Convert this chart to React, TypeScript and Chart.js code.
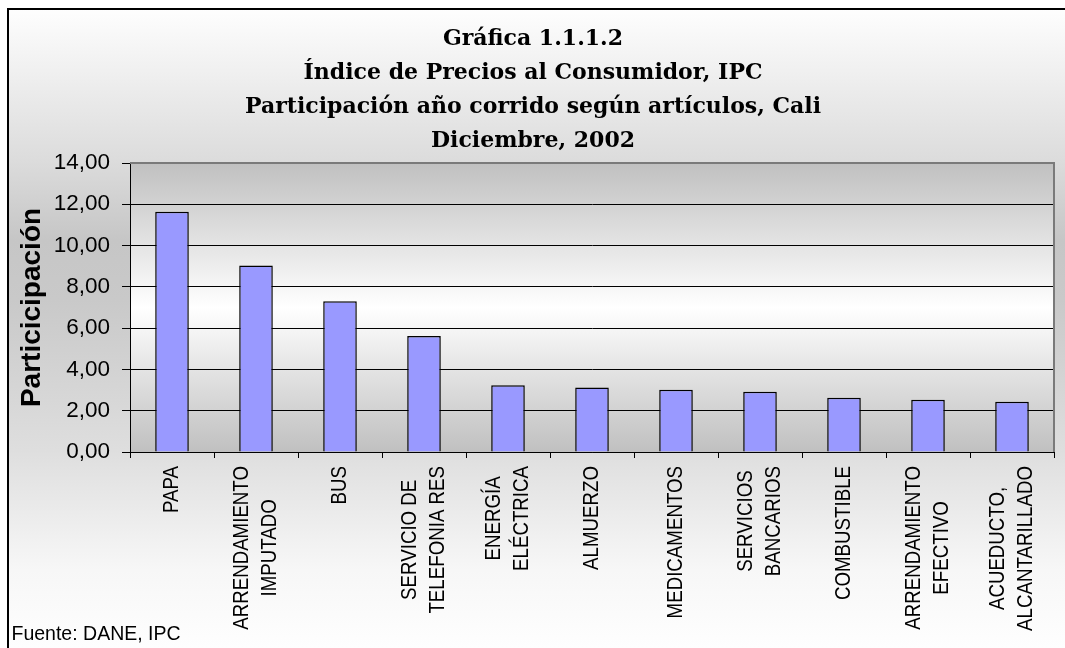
import React, { useEffect, useRef } from "react";
import { Chart, registerables } from "chart.js";

Chart.register(...registerables);

const titleLines = [
  "Gráfica 1.1.1.2",
  "Índice de Precios al Consumidor, IPC",
  "Participación año corrido según artículos, Cali",
  "Diciembre, 2002",
];

const categories: string[][] = [
  ["PAPA"],
  ["ARRENDAMIENTO", "IMPUTADO"],
  ["BUS"],
  ["SERVICIO DE", "TELEFONIA RES"],
  ["ENERGÍA", "ELÉCTRICA"],
  ["ALMUERZO"],
  ["MEDICAMENTOS"],
  ["SERVICIOS", "BANCARIOS"],
  ["COMBUSTIBLE"],
  ["ARRENDAMIENTO", "EFECTIVO"],
  ["ACUEDUCTO,", "ALCANTARILLADO"],
];

const participacion = [11.64, 9.04, 7.3, 5.62, 3.23, 3.13, 3.02, 2.92, 2.63, 2.53, 2.44];

const yMin = 0;
const yMax = 14;
const yStep = 2;

const yAxisTitle = "Particicipación";
const sourceNote = "Fuente: DANE, IPC";

const SANS = "'Liberation Sans', Arial, sans-serif";
const SERIF = "'DejaVu Serif', serif";

const decorPlugin = {
  id: "decor",
  beforeDraw(chart: any) {
    const { ctx, chartArea, width, height } = chart;
    ctx.save();
    ctx.fillStyle = "#ffffff";
    ctx.fillRect(0, 0, width, height);
    const g = ctx.createLinearGradient(0, 8, 0, height);
    g.addColorStop(0, "#fefefe");
    g.addColorStop((160 - 8) / (height - 8), "#dcdcdc");
    g.addColorStop((240 - 8) / (height - 8), "#c6c6c6");
    g.addColorStop((300 - 8) / (height - 8), "#c9c9c9");
    g.addColorStop((450 - 8) / (height - 8), "#dedede");
    g.addColorStop((570 - 8) / (height - 8), "#f7f7f7");
    g.addColorStop(1, "#fefefe");
    ctx.fillStyle = g;
    ctx.fillRect(9, 10, width - 9, height - 10);

    const pg = ctx.createLinearGradient(0, chartArea.top, 0, chartArea.bottom);
    pg.addColorStop(0, "#c0c0c0");
    pg.addColorStop(0.5, "#ffffff");
    pg.addColorStop(1, "#c0c0c0");
    ctx.fillStyle = pg;
    ctx.fillRect(chartArea.left, chartArea.top, chartArea.right - chartArea.left, chartArea.bottom - chartArea.top);
    ctx.restore();
  },
  afterDraw(chart: any) {
    const { ctx, chartArea, width, height } = chart;
    const xScale = chart.scales.x;
    ctx.save();
    // plot area border (top/right, gray)
    ctx.strokeStyle = "#7a7a7a";
    ctx.lineWidth = 2;
    ctx.beginPath();
    ctx.moveTo(chartArea.left, chartArea.top);
    ctx.lineTo(chartArea.right, chartArea.top);
    ctx.lineTo(chartArea.right, chartArea.bottom);
    ctx.stroke();

    // outer frame (left/top)
    ctx.strokeStyle = "#000000";
    ctx.lineWidth = 2;
    ctx.beginPath();
    ctx.moveTo(8, height);
    ctx.lineTo(8, 9);
    ctx.lineTo(width, 9);
    ctx.stroke();

    // category labels (rotated, centered lines)
    const s = 0.85;
    const lineGap = 28;
    const labelTop = 466;
    ctx.font = `22px ${SANS}`;
    ctx.fillStyle = "#000000";
    ctx.textAlign = "center";
    ctx.textBaseline = "middle";
    categories.forEach((lines, i) => {
      const x = xScale.getPixelForValue(i);
      const maxW = Math.max(...lines.map((l) => ctx.measureText(l).width)) * s;
      lines.forEach((line, j) => {
        const dx = (j - (lines.length - 1) / 2) * lineGap;
        ctx.save();
        ctx.translate(x + dx, labelTop + maxW / 2);
        ctx.rotate(-Math.PI / 2);
        ctx.scale(s, 1);
        ctx.fillText(line, 0, 0);
        ctx.restore();
      });
    });

    // source note
    ctx.font = `19.5px ${SANS}`;
    ctx.textAlign = "left";
    ctx.textBaseline = "alphabetic";
    ctx.fillText(sourceNote, 11.5, 639.5);
    ctx.restore();
  },
};

export default function App() {
  const ref = useRef<HTMLCanvasElement>(null);
  useEffect(() => {
    const canvas = ref.current;
    if (!canvas) return;
    const chart = new Chart(canvas, {
      type: "bar",
      data: {
        labels: categories.map((c) => c.join(" ")),
        datasets: [
          {
            data: participacion,
            backgroundColor: "#9999ff",
            borderColor: "#000000",
            borderWidth: 1.5,
            barPercentage: 0.4,
            categoryPercentage: 1.0,
          },
        ],
      },
      options: {
        responsive: false,
        devicePixelRatio: 1,
        animation: false,
        layout: { padding: { left: 12, right: 11, top: 0, bottom: 0 } },
        plugins: {
          legend: { display: false },
          tooltip: { enabled: false },
          title: {
            display: true,
            text: titleLines,
            color: "#000000",
            font: { family: SERIF, size: 22, weight: "bold", lineHeight: 34 / 22 },
            padding: { top: 22.5, bottom: 4.5 },
          },
        },
        scales: {
          x: {
            offset: true,
            grid: {
              display: true,
              drawOnChartArea: false,
              drawTicks: true,
              tickLength: 6,
              color: "#000000",
              lineWidth: 1,
              offset: true,
            },
            border: { display: true, color: "#000000", width: 1 },
            ticks: { display: false },
            afterFit: (scale: any) => {
              scale.height = 196;
            },
          },
          y: {
            min: yMin,
            max: yMax,
            grid: {
              color: "#000000",
              lineWidth: 1,
              drawTicks: true,
              tickLength: 8,
            },
            border: { display: true, color: "#000000", width: 1 },
            ticks: {
              stepSize: yStep,
              color: "#000000",
              padding: 12,
              font: { family: SANS, size: 22.5 },
              callback: (v: any) => Number(v).toFixed(2).replace(".", ","),
            },
            title: {
              display: true,
              text: yAxisTitle,
              color: "#000000",
              font: { family: SANS, size: 28, weight: "bold", lineHeight: 1.2 },
              padding: { top: 3.2, bottom: 0 },
            },
            afterFit: (scale: any) => {
              scale.width = 118;
            },
          },
        },
      },
      plugins: [decorPlugin],
    });
    return () => chart.destroy();
  }, []);
  return (
    <div style={{ position: "absolute", left: 0, top: 0, width: 1065, height: 648 }}>
      <canvas ref={ref} width={1065} height={648} style={{ display: "block", width: 1065, height: 648 }} />
    </div>
  );
}
